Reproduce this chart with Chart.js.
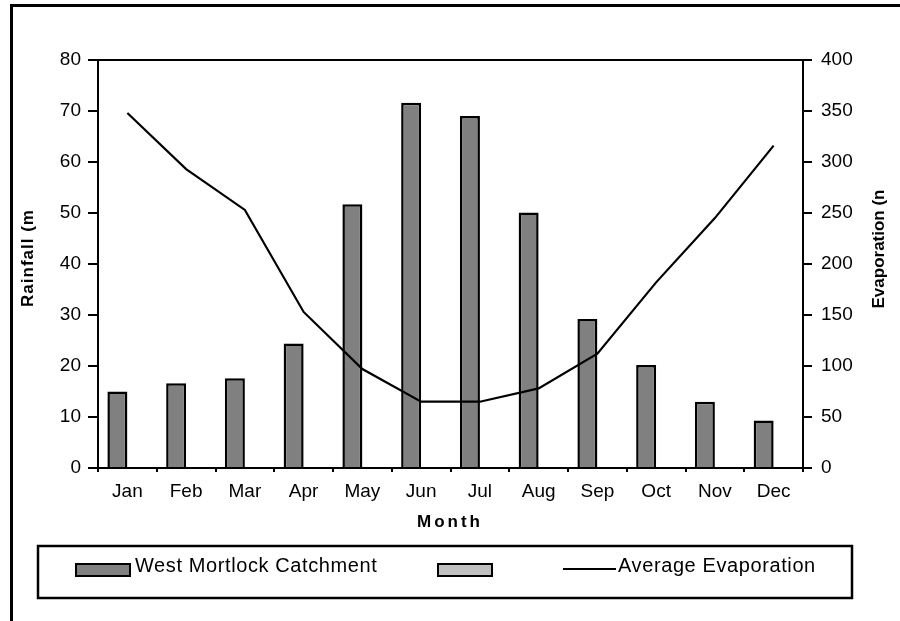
<!DOCTYPE html>
<html>
<head>
<meta charset="utf-8">
<script src="https://cdn.jsdelivr.net/npm/chart.js@4.4.1/dist/chart.umd.min.js"></script>
<style>
  html, body { margin: 0; padding: 0; background: #ffffff; }
  #wrap { width: 900px; height: 621px; position: relative; }
</style>
</head>
<body>
<div id="wrap"><canvas id="chart" width="900" height="621"></canvas></div>
<script>
// Monthly rainfall (mm) and average evaporation (mm)
const months = ['Jan', 'Feb', 'Mar', 'Apr', 'May', 'Jun', 'Jul', 'Aug', 'Sep', 'Oct', 'Nov', 'Dec'];
const rainfall = [15.0, 16.6, 17.6, 24.4, 51.7, 71.6, 69.0, 50.1, 29.2, 20.2, 13.0, 9.3];
const emptySeries = [null, null, null, null, null, null, null, null, null, null, null, null];
const evaporation = [348, 293, 253, 153, 97, 65, 65, 78, 112, 182, 245, 316];
const rainfallTicks = [0, 10, 20, 30, 40, 50, 60, 70, 80];
const evaporationTicks = [0, 50, 100, 150, 200, 250, 300, 350, 400];

const seriesNames = ['West Mortlock Catchment', '', 'Average Evaporation'];
const axisTitles = { rain: 'Rainfall (m', evap: 'Evaporation (n', month: 'Month' };

const FONT = "'Liberation Sans', Arial, sans-serif";

// Fixed plot rectangle
const PLOT = { left: 98, right: 803, top: 60, bottom: 468 };

function drawText(ctx, text, x, y, font, spacing, rotate) {
  ctx.save();
  ctx.font = font;
  ctx.letterSpacing = spacing + 'px';
  ctx.fillStyle = '#000';
  ctx.textAlign = 'center';
  ctx.textBaseline = 'middle';
  ctx.translate(x, y);
  if (rotate) ctx.rotate(rotate);
  ctx.fillText(text, 0, 0);
  ctx.restore();
}

const decorations = {
  id: 'decorations',
  beforeDraw(chart) {
    const ctx = chart.ctx;
    ctx.save();
    ctx.fillStyle = '#fff';
    ctx.fillRect(0, 0, chart.width, chart.height);
    ctx.restore();
  },
  afterDraw(chart) {
    const ctx = chart.ctx;
    const a = chart.chartArea;
    ctx.save();
    // outer frame (open to the right and bottom)
    ctx.strokeStyle = '#000';
    ctx.lineWidth = 3;
    ctx.beginPath();
    ctx.moveTo(11.5, 621);
    ctx.lineTo(11.5, 5.5);
    ctx.lineTo(900, 5.5);
    ctx.stroke();
    // top edge of plot box
    ctx.lineWidth = 2;
    ctx.beginPath();
    ctx.moveTo(a.left, a.top);
    ctx.lineTo(a.right, a.top);
    ctx.stroke();
    ctx.restore();

    // axis titles
    drawText(ctx, axisTitles.rain, 28, 258, "bold 17px " + FONT, 1, -Math.PI / 2);
    drawText(ctx, axisTitles.evap, 879, 249, "bold 17px " + FONT, 0, -Math.PI / 2);
    drawText(ctx, axisTitles.month, 450, 522, "bold 17px " + FONT, 3, 0);

    // legend box
    ctx.save();
    ctx.strokeStyle = '#000';
    ctx.lineWidth = 2.5;
    ctx.strokeRect(38, 546, 814, 52);
    const ds = chart.data.datasets;
    const slots = [
      { x: 76, textX: 135 },
      { x: 438, textX: 496 },
      { x: 563, textX: 618 }
    ];
    ds.forEach((d, i) => {
      const s = slots[i];
      if (d.type === 'line') {
        ctx.strokeStyle = d.borderColor;
        ctx.lineWidth = 2;
        ctx.beginPath();
        ctx.moveTo(s.x, 569);
        ctx.lineTo(s.x + 53, 569);
        ctx.stroke();
      } else {
        ctx.fillStyle = d.backgroundColor;
        ctx.fillRect(s.x, 564, 54, 12);
        ctx.strokeStyle = '#000';
        ctx.lineWidth = 2;
        ctx.strokeRect(s.x, 564, 54, 12);
      }
      if (d.label) {
        ctx.font = "20px " + FONT;
        ctx.letterSpacing = '0.6px';
        ctx.fillStyle = '#000';
        ctx.textAlign = 'left';
        ctx.textBaseline = 'middle';
        ctx.fillText(d.label, s.textX, 566);
      }
    });
    ctx.restore();
  }
};

const tickFont = { family: FONT, size: 19 };

new Chart(document.getElementById('chart'), {
  type: 'bar',
  data: {
    labels: months,
    datasets: [
      {
        type: 'bar',
        label: seriesNames[0],
        data: rainfall,
        yAxisID: 'y',
        backgroundColor: '#808080',
        borderColor: '#000000',
        borderWidth: 2.5,
        borderSkipped: 'bottom',
        categoryPercentage: 0.68,
        barPercentage: 1.0,
        order: 2
      },
      {
        type: 'bar',
        label: seriesNames[1],
        data: emptySeries,
        yAxisID: 'y',
        backgroundColor: '#c0c0c0',
        borderColor: '#000000',
        borderWidth: 2,
        categoryPercentage: 0.68,
        barPercentage: 1.0,
        order: 2
      },
      {
        type: 'line',
        label: seriesNames[2],
        data: evaporation,
        yAxisID: 'y2',
        borderColor: '#000000',
        borderWidth: 2.2,
        pointRadius: 0,
        tension: 0,
        fill: false,
        order: 0
      }
    ]
  },
  options: {
    responsive: false,
    animation: false,
    devicePixelRatio: 1,
    layout: { padding: { top: PLOT.top, left: 0, right: 0, bottom: 0 } },
    plugins: { legend: { display: false }, tooltip: { enabled: false }, title: { display: false } },
    scales: {
      x: {
        offset: true,
        afterFit(s) { s.height = 621 - PLOT.bottom; },
        grid: { display: true, offset: true, drawOnChartArea: false, drawTicks: true, tickLength: 4, color: '#000', lineWidth: 2 },
        border: { display: true, color: '#000', width: 2 },
        ticks: { font: tickFont, color: '#000', padding: 8, maxRotation: 0, autoSkip: false }
      },
      y: {
        position: 'left',
        min: rainfallTicks[0],
        max: rainfallTicks[rainfallTicks.length - 1],
        afterFit(s) { s.width = PLOT.left; },
        afterBuildTicks(s) { s.ticks = rainfallTicks.map(v => ({ value: v })); },
        grid: { display: true, drawOnChartArea: false, drawTicks: true, tickLength: 10, color: '#000', lineWidth: 2 },
        border: { display: true, color: '#000', width: 2 },
        ticks: { font: tickFont, color: '#000', padding: 7 }
      },
      y2: {
        position: 'right',
        min: evaporationTicks[0],
        max: evaporationTicks[evaporationTicks.length - 1],
        afterFit(s) { s.width = 900 - PLOT.right; },
        afterBuildTicks(s) { s.ticks = evaporationTicks.map(v => ({ value: v })); },
        grid: { display: true, drawOnChartArea: false, drawTicks: true, tickLength: 9, color: '#000', lineWidth: 2 },
        border: { display: true, color: '#000', width: 2 },
        ticks: { font: tickFont, color: '#000', padding: 9 }
      }
    }
  },
  plugins: [decorations]
});
</script>
</body>
</html>
